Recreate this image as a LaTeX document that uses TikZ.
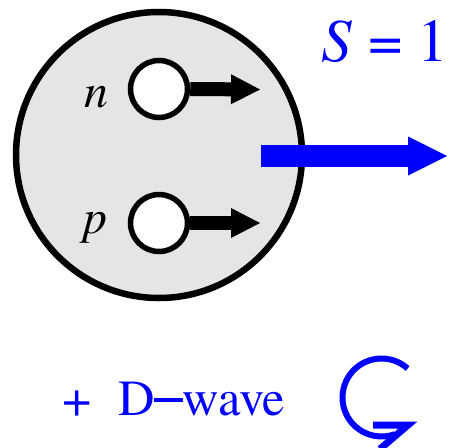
\documentclass[tikz,border=0pt]{standalone}
\usepackage{fontspec}
\setmainfont{texgyretermes}[Extension=.otf,UprightFont=*-regular,ItalicFont=*-italic,BoldFont=*-bold,BoldItalicFont=*-bolditalic]
\usetikzlibrary{arrows.meta}
\newcommand{\wavedash}{\kern-0.5pt\rule[0.25em]{0.58em}{0.085em}\kern-0.5pt}
\begin{document}
\begin{tikzpicture}[x=1pt,y=-1pt,
  nucleus/.style={circle,draw=black,line width=6.5pt,fill=black!10,minimum size=286pt,inner sep=0pt},
  nucleon/.style={circle,draw=black,line width=5.5pt,fill=white,minimum size=57pt,inner sep=0pt},
  spinarrow/.style={line width=14pt,-{Triangle[length=29pt,width=30pt,line width=0pt]}},
  totalarrow/.style={draw=blue,line width=22pt,-{Triangle[length=39pt,width=39pt,line width=0pt,fill=blue]}},
  lbl/.style={inner sep=0pt,anchor=base,font=\fontsize{48}{52}\selectfont\itshape},
  bluetxt/.style={inner sep=0pt,anchor=base,text=blue},
  curl/.style={draw=blue,line width=6pt}
]
\useasboundingbox (0,0) rectangle (449,447);
\clip (0,0) rectangle (449,447);
\node[nucleus] (nuc) at (159,155) {};
\node[nucleon] (n) at (159,89) {};
\node[nucleon] (p) at (159,223) {};
\node[lbl] (nl) at (96,107) {n};
\node[lbl] (pl) at (95,233) {p};
\coordinate (ntip) at (260,89.5);
\coordinate (ptip) at (260,223);
\draw[spinarrow] (n.east) -- (ntip);
\draw[spinarrow] (p.east) -- (ptip);
\coordinate (sstart) at (261,156);
\coordinate (stip) at (447,156);
\draw[totalarrow] (sstart) -- (stip);
\node[bluetxt,font=\fontsize{61}{64}\selectfont] (spin) at (385,61) {\textit{S} = 1};
\node[bluetxt,font=\fontsize{52}{56}\selectfont] (plus) at (77.5,416) {+};
\node[bluetxt,font=\fontsize{50.5}{54}\selectfont] (dwave) at (201.5,415) {D\wavedash wave};
\coordinate (cc) at (381.5,397.5);
\draw[curl,line cap=butt] ([shift={(-48:39)}]cc) arc[start angle=-48,end angle=-290,radius=39];
\draw[curl,line width=7pt,line join=miter] (373,425) -- (408,425) -- (380,449);
\end{tikzpicture}
\end{document}
